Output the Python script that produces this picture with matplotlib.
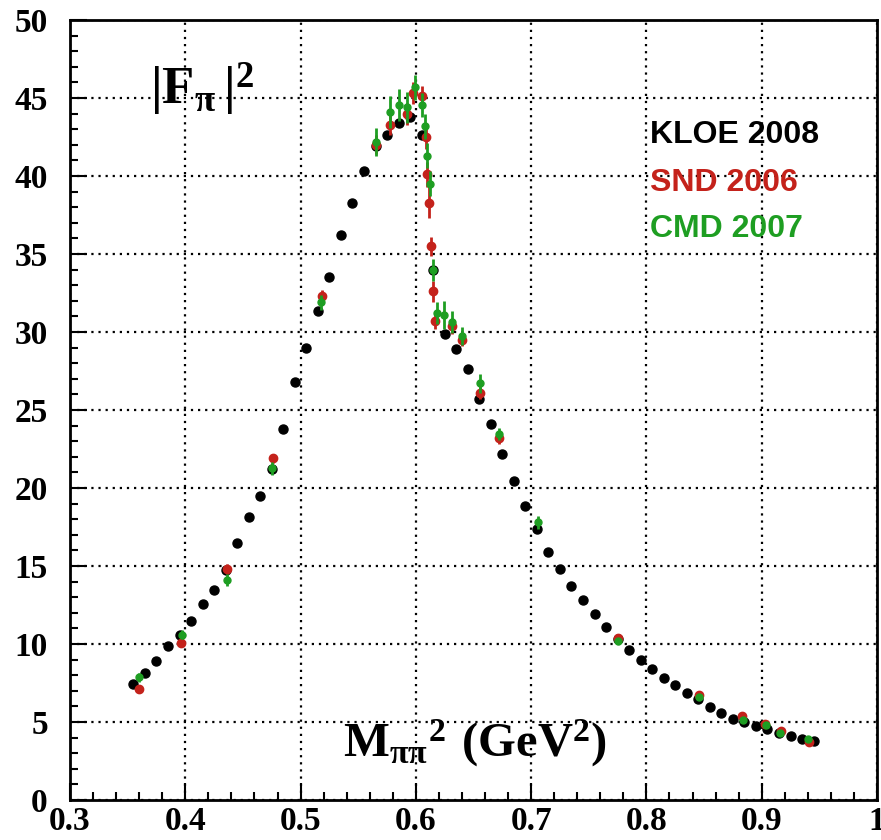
import matplotlib
matplotlib.use("Agg")
import matplotlib.pyplot as plt
from matplotlib.ticker import MultipleLocator

# KLOE 2008 (black)
kloe_x = [0.355, 0.365, 0.375, 0.385, 0.395, 0.405, 0.415, 0.425, 0.435, 0.445,
          0.455, 0.465, 0.475, 0.485, 0.495, 0.505, 0.515, 0.525, 0.535, 0.545,
          0.555, 0.565, 0.575, 0.585, 0.595, 0.605, 0.615, 0.625, 0.635, 0.645,
          0.655, 0.665, 0.675, 0.685, 0.695, 0.705, 0.715, 0.725, 0.735, 0.745,
          0.755, 0.765, 0.775, 0.785, 0.795, 0.805, 0.815, 0.825, 0.835, 0.845,
          0.855, 0.865, 0.875, 0.885, 0.895, 0.905, 0.915, 0.925, 0.935, 0.945]
kloe_y = [7.44, 8.16, 8.9, 9.87, 10.58, 11.47, 12.54, 13.44, 14.74, 16.45,
          18.16, 19.5, 21.2, 23.8, 26.8, 28.95, 31.37, 33.55, 36.2, 38.3,
          40.3, 41.9, 42.6, 43.4, 43.8, 42.6, 34.0, 29.85, 28.9, 27.6,
          25.7, 24.1, 22.2, 20.47, 18.85, 17.4, 15.9, 14.8, 13.7, 12.8,
          11.9, 11.1, 10.3, 9.6, 9.0, 8.4, 7.85, 7.35, 6.85, 6.45,
          5.95, 5.6, 5.19, 4.98, 4.77, 4.53, 4.3, 4.1, 3.9, 3.76]

# SND 2006 (red)
snd_x = [0.360, 0.3965, 0.436, 0.4764, 0.5186, 0.565, 0.5775, 0.5926, 0.5978, 0.605,
         0.6088, 0.6094, 0.6116, 0.6128, 0.615, 0.617, 0.631, 0.640, 0.656, 0.6724,
         0.775, 0.846, 0.883, 0.9025, 0.917, 0.941]
snd_y = [7.1, 10.08, 14.8, 21.9, 32.3, 42.0, 43.3, 44.0, 45.3, 45.1,
         42.5, 40.1, 38.3, 35.5, 32.6, 30.7, 30.4, 29.5, 26.1, 23.2,
         10.4, 6.7, 5.4, 4.9, 4.45, 3.7]
snd_err = [0.2, 0.2, 0.3, 0.3, 0.4, 0.6, 0.7, 0.7, 0.7, 0.7,
           0.8, 0.8, 1.0, 0.6, 0.7, 0.5, 0.5, 0.4, 0.4, 0.4,
           0.2, 0.15, 0.15, 0.15, 0.1, 0.1]

# CMD 2007 (green)
cmd_x = [0.360, 0.397, 0.436, 0.4755, 0.518, 0.565, 0.578, 0.585, 0.5926, 0.599,
         0.605, 0.608, 0.610, 0.612, 0.6146, 0.618, 0.6247, 0.631, 0.640, 0.656,
         0.6724, 0.7056, 0.775, 0.846, 0.884, 0.9036, 0.916, 0.940]
cmd_y = [7.86, 10.6, 14.1, 21.26, 31.9, 42.2, 44.1, 44.55, 44.4, 45.7,
         44.55, 43.2, 41.3, 39.5, 34.0, 31.2, 31.1, 30.65, 29.74, 26.7,
         23.46, 17.8, 10.2, 6.6, 5.1, 4.8, 4.27, 3.9]
cmd_err = [0.3, 0.3, 0.4, 0.4, 0.5, 0.9, 1.0, 1.0, 1.0, 0.8,
           0.8, 0.8, 0.8, 0.8, 0.7, 0.7, 0.9, 0.7, 0.6, 0.6,
           0.4, 0.4, 0.2, 0.15, 0.15, 0.15, 0.1, 0.1]

RED = '#c4221b'
GREEN = '#1e9e22'

plt.rcParams['mathtext.fontset'] = 'custom'
plt.rcParams['mathtext.rm'] = 'Liberation Serif:bold'
plt.rcParams['mathtext.it'] = 'Liberation Serif:bold'
plt.rcParams['mathtext.bf'] = 'Liberation Serif:bold'

fig = plt.figure(figsize=(8.81, 8.40), dpi=100)
ax = fig.add_axes([70 / 881, 40 / 840, 807 / 881, 780 / 840])

ax.plot(kloe_x, kloe_y, 'o', color='black', markersize=6.5, zorder=3)
ax.errorbar(snd_x, snd_y, yerr=snd_err, fmt='o', color=RED, markersize=6,
            elinewidth=2, capsize=0, zorder=4)
ax.errorbar(cmd_x, cmd_y, yerr=cmd_err, fmt='o', color=GREEN, markersize=5,
            elinewidth=2, capsize=0, zorder=5)

ax.set_xlim(0.3, 1.0)
ax.set_ylim(0, 50)
ax.xaxis.set_major_locator(MultipleLocator(0.1))
ax.xaxis.set_minor_locator(MultipleLocator(0.02))
ax.yaxis.set_major_locator(MultipleLocator(5))
ax.yaxis.set_minor_locator(MultipleLocator(1))
ax.set_xticks([0.3, 0.4, 0.5, 0.6, 0.7, 0.8, 0.9, 1.0])
ax.set_xticklabels(['0.3', '0.4', '0.5', '0.6', '0.7', '0.8', '0.9', '1'])

ax.grid(True, which='major', color='black', linestyle=(0, (1, 2.2)), linewidth=1.6)
ax.set_axisbelow(True)

ax.tick_params(which='both', direction='in', top=False, right=False, width=1.5)
ax.tick_params(which='major', length=12)
ax.tick_params(which='minor', length=6)
ax.tick_params(axis='y', pad=16)
ax.tick_params(axis='x', pad=4)
for lab in ax.get_xticklabels() + ax.get_yticklabels():
    lab.set_fontfamily('Liberation Serif')
    lab.set_fontweight('bold')
    lab.set_fontsize(24)
for sp in ax.spines.values():
    sp.set_linewidth(2)

ax.text((150 - 70) / 807, (800 - 105) / 780, r'$|\mathrm{F}_{\pi}\,|^{2}$',
        transform=ax.transAxes, fontsize=38, va='baseline', ha='left')
ax.text((343 - 70) / 807, (800 - 757) / 780,
        r'$\mathrm{M}_{\pi\pi}{}^{2}$ $\mathrm{(GeV}^{2}\mathrm{)}$',
        transform=ax.transAxes, fontsize=35, va='baseline', ha='left')

legend_items = [('KLOE 2008', 'black', 143), ('SND 2006', RED, 191), ('CMD 2007', GREEN, 237)]
for txt, col, yb in legend_items:
    ax.text((650 - 70) / 807, (800 - yb) / 780, txt, transform=ax.transAxes,
            color=col, fontsize=23, fontweight='bold', family='Liberation Sans',
            va='baseline', ha='left')

fig.savefig('out.png', dpi=100)
